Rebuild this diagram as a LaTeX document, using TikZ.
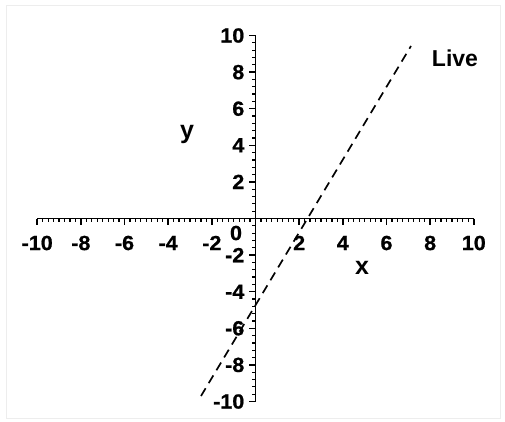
\documentclass[tikz,border=0pt]{standalone}
\usepackage{fontspec}
\setmainfont{Liberation Sans}
\newfontfamily\digitfont{Liberation Sans}[FakeStretch=1.05, FakeBold=0.8]
\begin{document}
\begin{tikzpicture}[x=1pt,y=-1pt,
  axis/.style={line width=1.8pt},
  minortick/.style={line width=1.2pt},
  majortick/.style={line width=1.5pt},
  ticklab/.style={font=\fontsize{20.5}{24}\digitfont\bfseries, inner sep=0pt},
  axlab/.style={font=\fontsize{25}{29}\selectfont\bfseries, inner sep=0pt},
  graph/.style={line width=1.7pt, dash pattern=on 9pt off 6pt}]
\useasboundingbox (0,0) rectangle (505,422);
\draw[black!7, line width=0.8pt] (6,5) rectangle (500,418);
% plot area
\begin{scope}[shift={(255.5,218.5)}, x=21.83pt, y=18.3pt]
  \coordinate (xl) at (-10,0);
  \coordinate (xr) at (10,0);
  \coordinate (yb) at (0,-10);
  \coordinate (yt) at (0,10);
  \draw[axis] (xl) -- (xr);
  \draw[axis] (yb) -- (yt);
  % x ticks
  \foreach \i [evaluate=\i as \t using -10+0.25*\i] in {0,...,80}
    \draw[minortick] (\t,0) -- ++(0,-3.5pt);
  \foreach \t in {-10,-8,...,10}
    \draw[majortick] (\t,0) -- ++(0,-6pt);
  % y ticks
  \foreach \i [evaluate=\i as \t using -10+0.4*\i] in {0,...,50}
    \draw[minortick] (0,\t) -- ++(-4pt,0);
  \foreach \t in {-10,-8,...,10}
    \draw[majortick] (0,\t) -- ++(-6.5pt,0);
  % x tick labels
  \foreach \t in {-10,-8,-6,-4,-2,2,4,6,8,10}
    \node[ticklab] (xt\t) at ([yshift=-24.5pt]\t,0) {\t};
  % y tick labels
  \foreach \t in {-10,-8,-6,-4,-2,2,4,6,8,10}
    \node[ticklab, anchor=east] (ylab\t) at ([xshift=-11pt]0,\t) {\t};
\end{scope}
\node[ticklab] (zero) at (236,233) {0};
% dashed line
\coordinate (la) at (201,396);
\coordinate (lb) at (411,46);
\draw[graph] (la) -- (lb);
% labels
\node[axlab] (ylabel) at (187,134) {y};
\node[axlab] (xlabel) at (362,268) {x};
\node[font=\fontsize{23}{27}\selectfont\bfseries, inner sep=0pt] (live) at (455,58) {Live};
\end{tikzpicture}
\end{document}
